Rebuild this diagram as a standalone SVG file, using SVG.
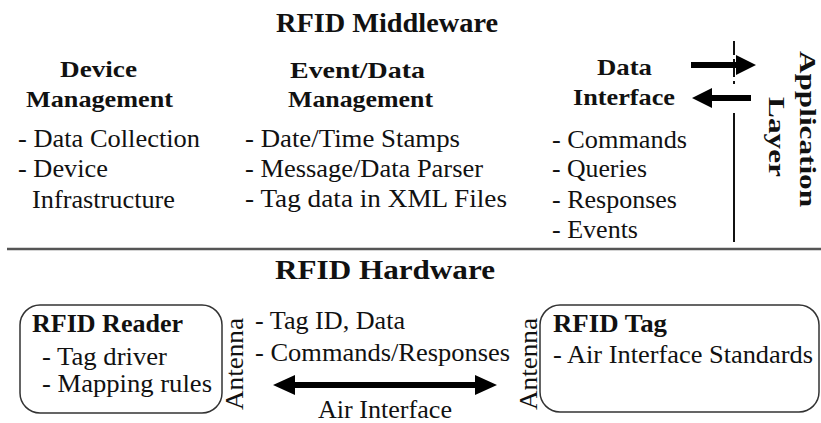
<svg xmlns="http://www.w3.org/2000/svg" width="821" height="423" viewBox="0 0 821 423" font-family="'Liberation Serif', 'Times New Roman', serif">
<style>
text{font-family:'Liberation Serif','Times New Roman',serif;fill:#111}
.t{font-size:27px;font-weight:bold}
.h{font-size:24px;font-weight:bold}
.b{font-size:25px}
.bt{font-size:25px;font-weight:bold}
.an{font-size:25px}
.al{font-size:24px;font-weight:bold}
.box{fill:none;stroke:#333;stroke-width:1.5}
.ln{stroke:#111;stroke-width:2;fill:none}
.arr{fill:#000}
</style>
<rect width="821" height="423" fill="#fff"/>
<g id="middleware-title">
<text class="t" x="276" y="32" textLength="222" lengthAdjust="spacingAndGlyphs">RFID Middleware</text>
</g>
<g id="device-management">
<text class="h" x="60" y="77" textLength="77" lengthAdjust="spacingAndGlyphs">Device</text>
<text class="h" x="26" y="107" textLength="147" lengthAdjust="spacingAndGlyphs">Management</text>
<text class="b" x="18" y="147" textLength="182" lengthAdjust="spacingAndGlyphs">- Data Collection</text>
<text class="b" x="18" y="177" textLength="90" lengthAdjust="spacingAndGlyphs">- Device</text>
<text class="b" x="32" y="208" textLength="143" lengthAdjust="spacingAndGlyphs">Infrastructure</text>
</g>
<g id="event-data-management">
<text class="h" x="290" y="78" textLength="135" lengthAdjust="spacingAndGlyphs">Event/Data</text>
<text class="h" x="288" y="107" textLength="145" lengthAdjust="spacingAndGlyphs">Management</text>
<text class="b" x="245" y="147" textLength="215" lengthAdjust="spacingAndGlyphs">- Date/Time Stamps</text>
<text class="b" x="245" y="177" textLength="238" lengthAdjust="spacingAndGlyphs">- Message/Data Parser</text>
<text class="b" x="245" y="207" textLength="262" lengthAdjust="spacingAndGlyphs">- Tag data in XML Files</text>
</g>
<g id="data-interface">
<text class="h" x="597" y="75" textLength="55" lengthAdjust="spacingAndGlyphs">Data</text>
<text class="h" x="573" y="105" textLength="102" lengthAdjust="spacingAndGlyphs">Interface</text>
<text class="b" x="552" y="148" textLength="135" lengthAdjust="spacingAndGlyphs">- Commands</text>
<text class="b" x="552" y="177" textLength="95" lengthAdjust="spacingAndGlyphs">- Queries</text>
<text class="b" x="552" y="208" textLength="125" lengthAdjust="spacingAndGlyphs">- Responses</text>
<text class="b" x="552" y="238" textLength="86" lengthAdjust="spacingAndGlyphs">- Events</text>
</g>
<g id="application-layer">
<text class="al" transform="translate(800,51) rotate(90)" x="0" y="0" textLength="156" lengthAdjust="spacingAndGlyphs">Application</text>
<text class="al" transform="translate(769,97) rotate(90)" x="0" y="0" textLength="80" lengthAdjust="spacingAndGlyphs">Layer</text>
</g>
<g id="hardware-title">
<text class="t" x="275" y="279" textLength="220" lengthAdjust="spacingAndGlyphs">RFID Hardware</text>
</g>
<g id="rfid-reader">
<rect class="box" x="20" y="305" width="202" height="108" rx="20"/>
<text class="bt" x="32" y="332" textLength="151" lengthAdjust="spacingAndGlyphs">RFID Reader</text>
<text class="b" x="42" y="365" textLength="125" lengthAdjust="spacingAndGlyphs">- Tag driver</text>
<text class="b" x="42" y="392" textLength="170" lengthAdjust="spacingAndGlyphs">- Mapping rules</text>
<text class="an" transform="translate(243,410) rotate(-90)" x="0" y="0" textLength="92" lengthAdjust="spacingAndGlyphs">Antenna</text>
</g>
<g id="rfid-tag">
<rect class="box" x="540" y="305" width="279" height="107" rx="20"/>
<text class="bt" x="553" y="332" textLength="114" lengthAdjust="spacingAndGlyphs">RFID Tag</text>
<text class="b" x="553" y="363" textLength="260" lengthAdjust="spacingAndGlyphs">- Air Interface Standards</text>
<text class="an" transform="translate(537,410) rotate(-90)" x="0" y="0" textLength="92" lengthAdjust="spacingAndGlyphs">Antenna</text>
</g>
<g id="air-interface">
<text class="b" x="255" y="329" textLength="150" lengthAdjust="spacingAndGlyphs">- Tag ID, Data</text>
<text class="b" x="255" y="361" textLength="255" lengthAdjust="spacingAndGlyphs">- Commands/Responses</text>
<text class="b" x="318" y="418" textLength="134" lengthAdjust="spacingAndGlyphs">Air Interface</text>
</g>
<g id="connectors">
<line x1="7" y1="249" x2="821" y2="249" stroke="#555" stroke-width="2.5"/>
<path class="ln" d="M734 41V55M734 59V77M734 81V84M734 113V242"/>
<path class="arr" d="M691 62H736V55L756 65L736 75V68H691Z"/>
<path class="arr" d="M751 95H712V88L692 98L712 108V101H751Z"/>
<path class="arr" d="M273 385L295 375V382H475V375L497 385L475 395V388H295V395Z"/>
</g>
</svg>
